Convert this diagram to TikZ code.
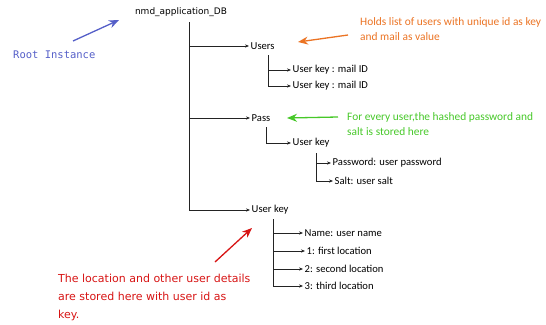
\documentclass[tikz,border=0pt]{standalone}
\usepackage{fontspec}
\setmainfont{Carlito}
\newfontfamily\dvs{DejaVu Sans}
\newfontfamily\dvsm{DejaVu Sans Mono}
\usetikzlibrary{arrows.meta}
\definecolor{lnk}{RGB}{35,35,35}
\definecolor{annblue}{RGB}{85,95,200}
\definecolor{annorange}{RGB}{235,115,35}
\definecolor{anngreen}{RGB}{70,200,40}
\definecolor{annred}{RGB}{215,20,20}
\begin{document}
\begin{tikzpicture}[x=1pt,y=-1pt,
  lbl/.style={anchor=west,inner sep=1.5pt,font=\fontsize{10.6}{12}\selectfont,text=black},
  tree/.style={draw=lnk,line width=0.9pt,-{Stealth[length=4pt,width=3.2pt]}},
  ann/.style={line width=1.3pt,-{Stealth[length=10pt,width=8pt]}},
  anntext/.style={anchor=west,align=left,inner sep=0pt}]
\useasboundingbox (0,0) rectangle (546,324);
% tree labels
\node[inner sep=1pt,font=\dvs\fontsize{9}{10}\selectfont] (root) at (181,12) {nmd\_application\_DB};
\node[lbl] (users) at (249,46) {Users};
\node[lbl] (uk1) at (291,70) {User key : mail ID};
\node[lbl] (uk2) at (291,86) {User key : mail ID};
\node[lbl] (pass) at (250,118) {Pass};
\node[lbl] (puk) at (291,143) {User key};
\node[lbl] (pw) at (331,163) {Password: user password};
\node[lbl] (salt) at (333,181) {Salt: user salt};
\node[lbl] (ukey) at (250,210) {User key};
\node[lbl] (name) at (303,233) {Name: user name};
\node[lbl] (loc1) at (305,251) {1: first location};
\node[lbl] (loc2) at (303,269) {2: second location};
\node[lbl] (loc3) at (303,286) {3: third location};
% tree connectors
\coordinate (trunk) at (189,22);
\draw[tree] (trunk) |- (ukey.west);
\draw[tree] (trunk |- users.west) -- (users.west);
\draw[tree] (trunk |- pass.west) -- (pass.west);
\coordinate (usersv) at (268,55);
\draw[tree] (usersv) |- (uk2.west);
\draw[tree] (usersv |- uk1.west) -- (uk1.west);
\coordinate (passv) at (266,127);
\draw[tree] (passv) |- (puk.west);
\coordinate (pukv) at (316,153);
\draw[tree] (pukv) |- (salt.west);
\draw[tree] (pukv |- pw.west) -- (pw.west);
\coordinate (ukeyv) at (273,219);
\draw[tree] (ukeyv) |- (loc3.west);
\draw[tree] (ukeyv |- name.west) -- (name.west);
\draw[tree] (ukeyv |- loc1.west) -- (loc1.west);
\draw[tree] (ukeyv |- loc2.west) -- (loc2.west);
% annotations
\node[anntext,text=annblue,font=\dvsm\fontsize{10.5}{12}\selectfont] (rootann) at (13,55) {Root Instance};
\coordinate (bluefrom) at (73,41);
\coordinate (blueto) at (119,20);
\draw[ann,annblue] (bluefrom) -- (blueto);
\node[anntext,text=annorange,font=\fontsize{11.4}{15}\selectfont] (orangeann) at (360,29.5) {Holds list of users with unique id as key\\and mail as value};
\coordinate (orangefrom) at (348,35);
\coordinate (orangeto) at (298,42);
\draw[ann,annorange] (orangefrom) -- (orangeto);
\node[anntext,text=anngreen,font=\fontsize{11.4}{15}\selectfont] (greenann) at (347,124.5) {For every user,the hashed password and\\salt is stored here};
\coordinate (greenfrom) at (338,117);
\coordinate (greento) at (287,118);
\draw[ann,anngreen] (greenfrom) -- (greento);
\node[anntext,text=annred,font=\dvs\fontsize{11}{18}\selectfont] (redann) at (58,297) {The location and other user details\\are stored here with user id as\\key.};
\coordinate (redfrom) at (215,262);
\coordinate (redto) at (252,228);
\draw[ann,annred] (redfrom) -- (redto);
\end{tikzpicture}
\end{document}
